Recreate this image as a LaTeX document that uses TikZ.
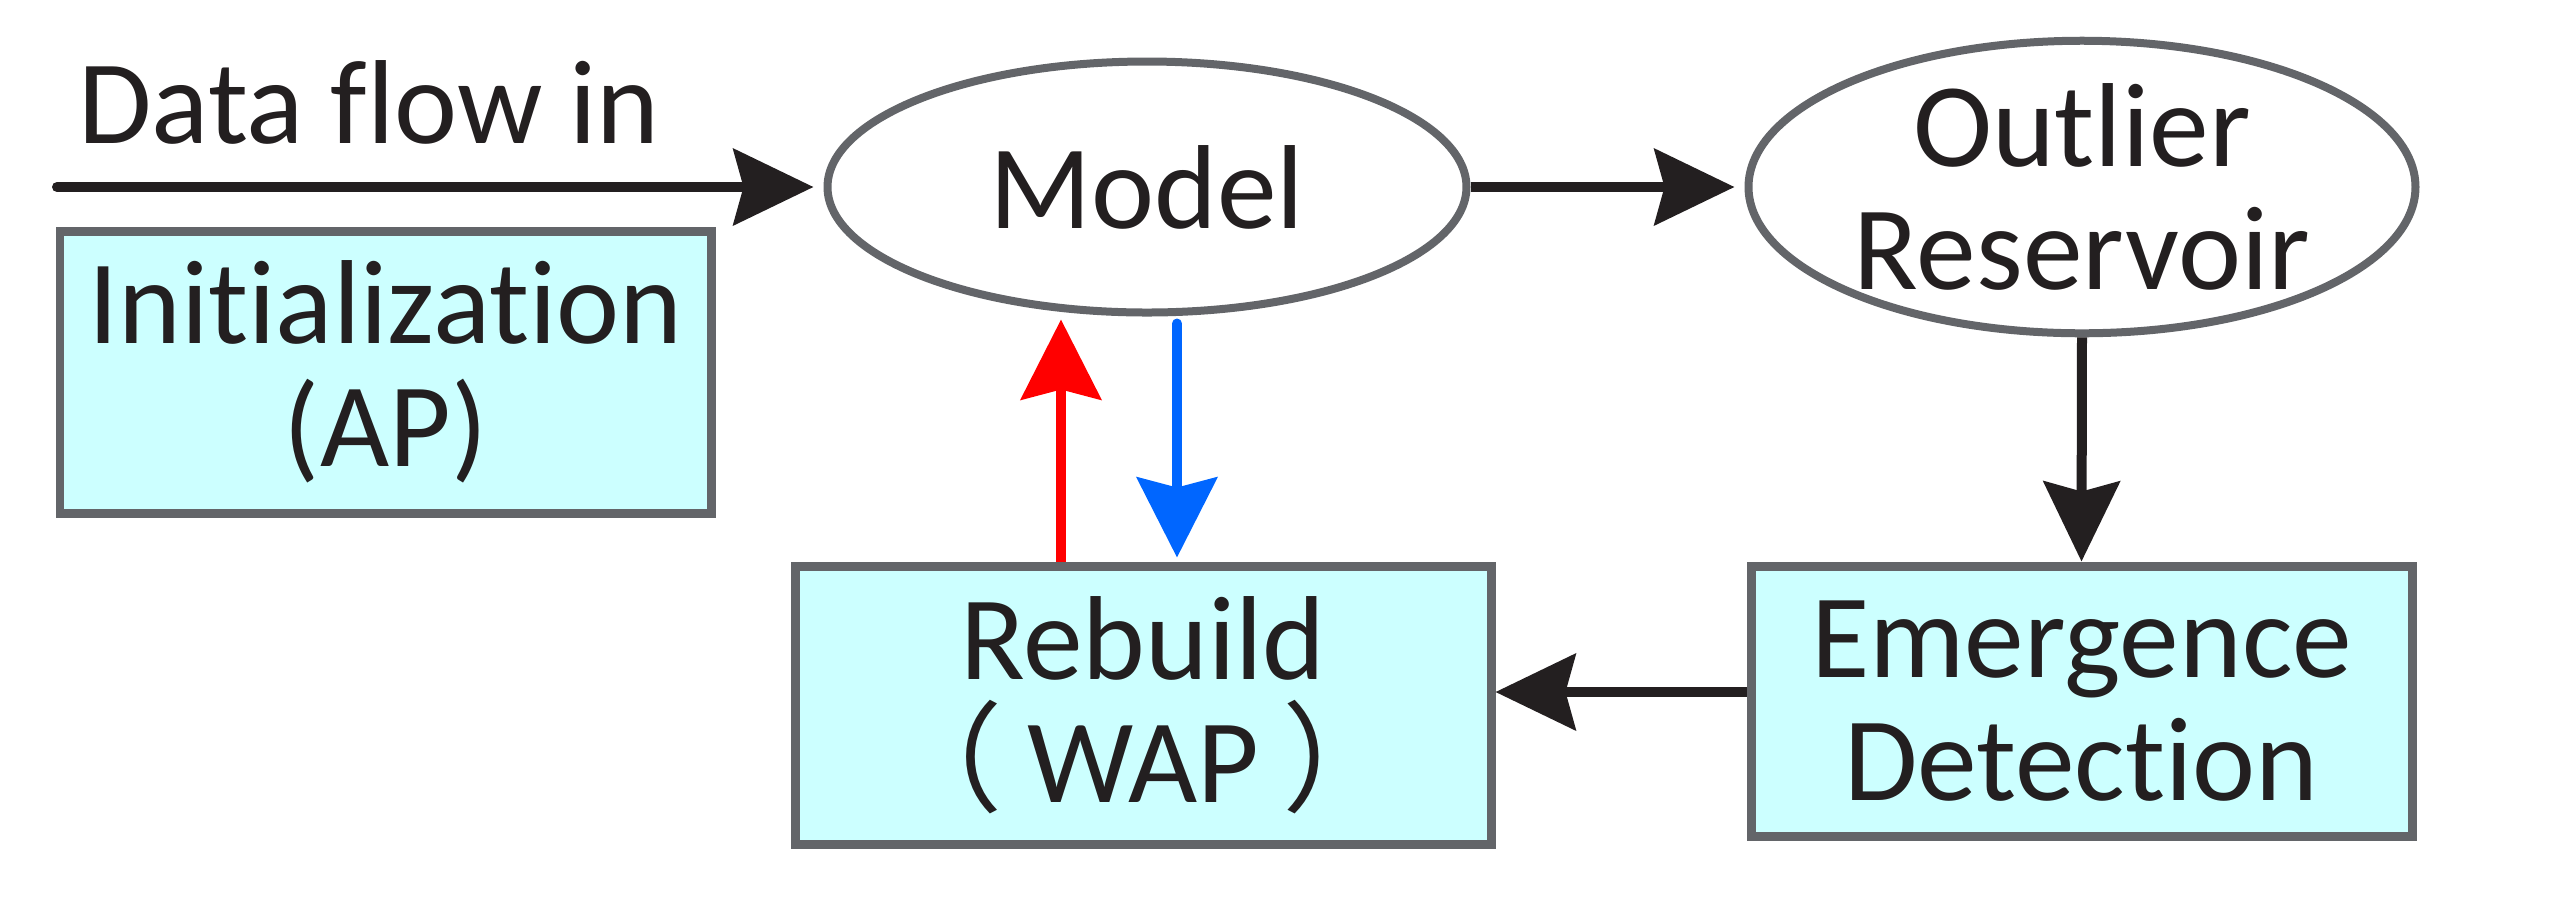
\documentclass[tikz,border=0pt]{standalone}
\usepackage{fontspec}
\setmainfont{Carlito}[Ligatures=NoCommon]
\newfontfamily\cjkfont{Noto Sans CJK SC}
\usetikzlibrary{positioning,arrows.meta,shapes.geometric}

\definecolor{boxcyan}{HTML}{CCFFFF}
\definecolor{edgegray}{HTML}{636569}
\definecolor{inkblack}{HTML}{231F20}
\definecolor{linkblue}{HTML}{0066FF}

\begin{document}
\begin{tikzpicture}[
    >={Stealth[length=0.8cm, width=0.76cm, inset=0.1cm]},
    every node/.style={font=\fontsize{34}{35}\selectfont, text=inkblack},
    box/.style={draw=edgegray, line width=0.09cm, fill=boxcyan, align=center, inner sep=0pt},
    ellipsebox/.style={ellipse, draw=edgegray, line width=0.08cm, fill=white, align=center, inner sep=0pt},
    flowarrow/.style={->, line width=0.1cm, inkblack},
    feedarrow/.style={-{Stealth[length=0.8cm, width=0.8cm, inset=0.1cm]}, line width=0.1cm},
]
\useasboundingbox (0,0) rectangle (25.56,-9.08);

% ---- Top row: input and model ----
\node[anchor=base west] (flowlabel) at (0.66,-1.43) {Data flow in};
\coordinate (flowstart) at (0.57,-1.87);
\node[ellipsebox, minimum width=6.39cm, minimum height=2.51cm] (model) at (11.47,-1.87) {Model};
\node[ellipsebox, minimum width=6.67cm, minimum height=2.77cm] (outlier) at (20.82,-1.87) {Outlier\\Reservoir};

% ---- Boxes ----
\node[box, minimum width=6.51cm, minimum height=2.82cm] (init) at (3.855,-3.72) {Initialization\\(AP)};
\node[box, minimum width=6.96cm, minimum height=2.78cm] (rebuild) at (11.43,-7.05) {Rebuild\\{\cjkfont（}\hspace{0.2em}WAP\hspace{0.2em}{\cjkfont）}};
\node[box, minimum width=6.61cm, minimum height=2.70cm] (emerge) at (20.815,-7.01) {Emergence\\Detection};

% ---- Arrows ----
\draw[flowarrow, line cap=round, shorten >=0.1cm] (flowstart) -- (model.west);
\draw[flowarrow, shorten >=0.1cm] (model.east) -- (outlier.west);
\draw[flowarrow] (outlier.south) -- (emerge.north);
\draw[flowarrow] ([yshift=0.09cm]emerge.west) -- ([yshift=0.09cm]emerge.west -| rebuild.east);

% Rebuild <-> Model feedback
\draw[feedarrow, red] ([xshift=-0.82cm]rebuild.north) -- ([xshift=-0.82cm, yshift=-0.03cm]rebuild.north |- model.south);
\draw[feedarrow, linkblue, line cap=round] ([xshift=0.34cm, yshift=-0.07cm]rebuild.north |- model.south) -- ([xshift=0.34cm, yshift=0.04cm]rebuild.north);

\end{tikzpicture}
\end{document}
